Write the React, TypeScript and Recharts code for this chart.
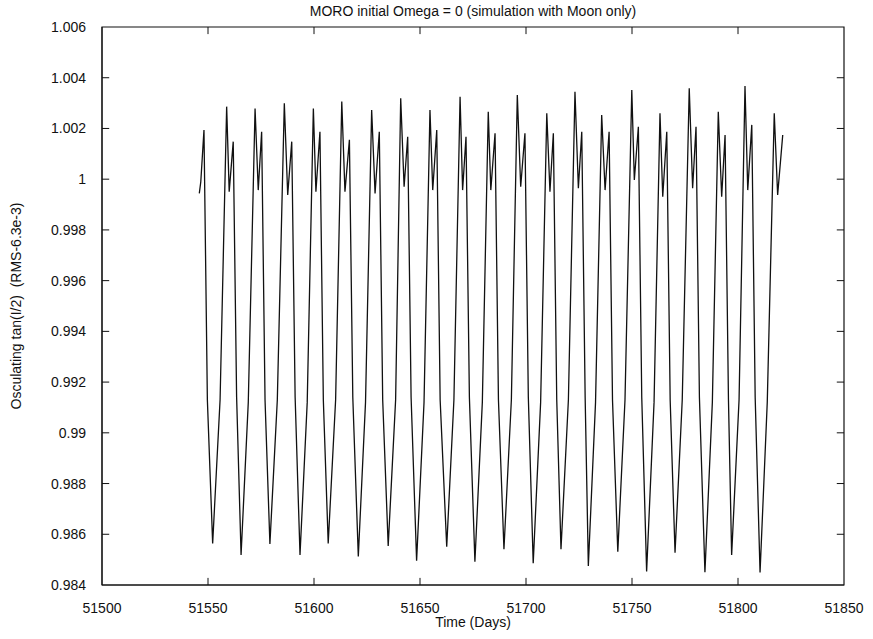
import React from 'react';
import { LineChart, Line, XAxis, YAxis, ReferenceLine, ReferenceArea } from 'recharts';

// time in days (MJD): min, rise, peak, dip, second peak, fall
const days = [
  51545.9, 51546.6, 51548.1, 51549.7,
  51552.2, 51555.7, 51558.8, 51560.0, 51561.9, 51563.5,
  51565.6, 51569.0, 51572.2, 51573.7, 51575.3, 51576.9,
  51579.2, 51582.7, 51586.0, 51587.6, 51589.5, 51591.1,
  51593.4, 51596.8, 51599.7, 51600.9, 51602.8, 51604.4,
  51606.7, 51610.2, 51613.1, 51614.6, 51616.7, 51618.3,
  51620.9, 51624.3, 51627.2, 51628.8, 51630.8, 51632.4,
  51635.0, 51638.5, 51640.9, 51642.5, 51644.2, 51645.8,
  51648.4, 51651.9, 51654.7, 51656.0, 51657.9, 51659.5,
  51662.6, 51666.0, 51668.9, 51670.1, 51671.7, 51673.3,
  51675.9, 51679.4, 51682.2, 51683.4, 51685.4, 51687.0,
  51689.6, 51693.1, 51695.9, 51697.5, 51699.5, 51701.1,
  51703.4, 51706.9, 51709.8, 51711.3, 51712.9, 51714.5,
  51716.5, 51720.0, 51723.1, 51724.7, 51726.3, 51727.9,
  51729.4, 51732.8, 51735.7, 51737.3, 51739.2, 51740.8,
  51743.3, 51746.7, 51749.9, 51751.1, 51753.0, 51754.6,
  51756.9, 51760.4, 51763.2, 51764.5, 51766.4, 51768.0,
  51770.3, 51773.7, 51777.0, 51778.6, 51780.2, 51781.8,
  51784.4, 51787.9, 51790.7, 51792.3, 51793.9, 51795.5,
  51797.0, 51800.5, 51803.3, 51804.6, 51806.5, 51808.1,
  51810.4, 51813.8, 51817.1, 51818.7, 51821.1,
];

// osculating tan(I/2)
const tanHalfI = [
  0.99944, 0.9999, 1.00194, 0.9913,
  0.98564, 0.9913, 1.00286, 0.99951, 1.00148, 0.9914,
  0.98518, 0.9912, 1.00279, 0.99957, 1.00187, 0.9913,
  0.98562, 0.9913, 1.00299, 0.99938, 1.00148, 0.9914,
  0.98518, 0.9912, 1.00279, 0.99951, 1.00187, 0.9913,
  0.98564, 0.9913, 1.00306, 0.99951, 1.00155, 0.9914,
  0.98512, 0.9912, 1.00273, 0.99944, 1.00187, 0.9913,
  0.98554, 0.9913, 1.00319, 0.9997, 1.00167, 0.9914,
  0.98496, 0.9912, 1.00273, 0.99957, 1.00194, 0.9913,
  0.98551, 0.9913, 1.00325, 0.99957, 1.00167, 0.9914,
  0.98492, 0.9912, 1.00266, 0.99957, 1.00181, 0.9913,
  0.98541, 0.9913, 1.00332, 0.9997, 1.00181, 0.9914,
  0.98486, 0.9912, 1.0026, 0.99951, 1.00181, 0.9913,
  0.98541, 0.9913, 1.00345, 0.99964, 1.00187, 0.9914,
  0.98475, 0.9912, 1.00253, 0.99957, 1.00187, 0.9913,
  0.98531, 0.9913, 1.00352, 0.99997, 1.00207, 0.9914,
  0.98453, 0.9912, 1.0026, 0.99931, 1.00187, 0.9913,
  0.98527, 0.9913, 1.00358, 0.99964, 1.00207, 0.9914,
  0.9845, 0.9912, 1.00266, 0.99931, 1.00174, 0.9913,
  0.98518, 0.9913, 1.00367, 0.99957, 1.00214, 0.9914,
  0.98449, 0.9912, 1.0026, 0.99938, 1.00174,
];

const xTicks = [51500, 51550, 51600, 51650, 51700, 51750, 51800, 51850];
const yTicks = [0.984, 0.986, 0.988, 0.99, 0.992, 0.994, 0.996, 0.998, 1, 1.002, 1.004, 1.006];

const X0 = 51500;
const X1 = 51850;
const Y0 = 0.984;
const Y1 = 1.006;

const data = days.map((t, i) => ({ t, v: tanHalfI[i] }));

// inward tick length, in data units (~7px)
const TICK_DX = 3.4;
const TICK_DY = 0.00028;

const font = '"Liberation Sans", Arial, Helvetica, sans-serif';
const tickStyle = { fill: '#111', fontSize: 14, fontFamily: font };

const fmtY = (v: number) => String(Number(v.toFixed(3)));

export default function App() {
  return (
    <div style={{ position: 'absolute', left: 0, top: 0, width: 873, height: 639, background: '#fff' }}>
      <div
        style={{
          position: 'absolute', left: 102, top: 3, width: 742, textAlign: 'center',
          fontFamily: font, fontSize: 14, color: '#111',
        }}
      >
        MORO initial Omega = 0 (simulation with Moon only)
      </div>
      <LineChart width={873} height={639} data={data} margin={{ top: 27, right: 29, left: 52, bottom: 24 }}>
        <XAxis
          dataKey="t"
          type="number"
          domain={[X0, X1]}
          ticks={xTicks}
          allowDataOverflow
          height={30}
          tickLine={false}
          tickMargin={12}
          stroke="#111"
          tick={tickStyle}
          label={{ value: 'Time (Days)', position: 'insideBottom', offset: -12, fill: '#111', fontSize: 14, fontFamily: font }}
        />
        <YAxis
          type="number"
          domain={[Y0, Y1]}
          ticks={yTicks}
          allowDataOverflow
          width={50}
          tickLine={false}
          tickMargin={10}
          stroke="#111"
          tick={tickStyle}
          tickFormatter={fmtY}
          label={{
            value: 'Osculating tan(I/2)\u00a0\u00a0(RMS-6.3e-3)',
            angle: -90,
            position: 'insideLeft',
            offset: -36,
            style: { textAnchor: 'middle', fill: '#111', fontSize: 14, fontFamily: font },
          }}
        />
        <ReferenceArea x1={X0} x2={X1} y1={Y0} y2={Y1} fill="none" stroke="#111" strokeWidth={1.2} />
        {xTicks.slice(1, -1).map((x) => (
          <ReferenceLine key={`xb${x}`} segment={[{ x, y: Y0 }, { x, y: Y0 + TICK_DY }]} stroke="#111" />
        ))}
        {xTicks.slice(1, -1).map((x) => (
          <ReferenceLine key={`xt${x}`} segment={[{ x, y: Y1 }, { x, y: Y1 - TICK_DY }]} stroke="#111" />
        ))}
        {yTicks.slice(1, -1).map((y) => (
          <ReferenceLine key={`yl${y}`} segment={[{ x: X0, y }, { x: X0 + TICK_DX, y }]} stroke="#111" />
        ))}
        {yTicks.slice(1, -1).map((y) => (
          <ReferenceLine key={`yr${y}`} segment={[{ x: X1, y }, { x: X1 - TICK_DX, y }]} stroke="#111" />
        ))}
        <Line
          type="linear"
          dataKey="v"
          stroke="#111"
          strokeWidth={1.3}
          dot={false}
          isAnimationActive={false}
        />
      </LineChart>
    </div>
  );
}
